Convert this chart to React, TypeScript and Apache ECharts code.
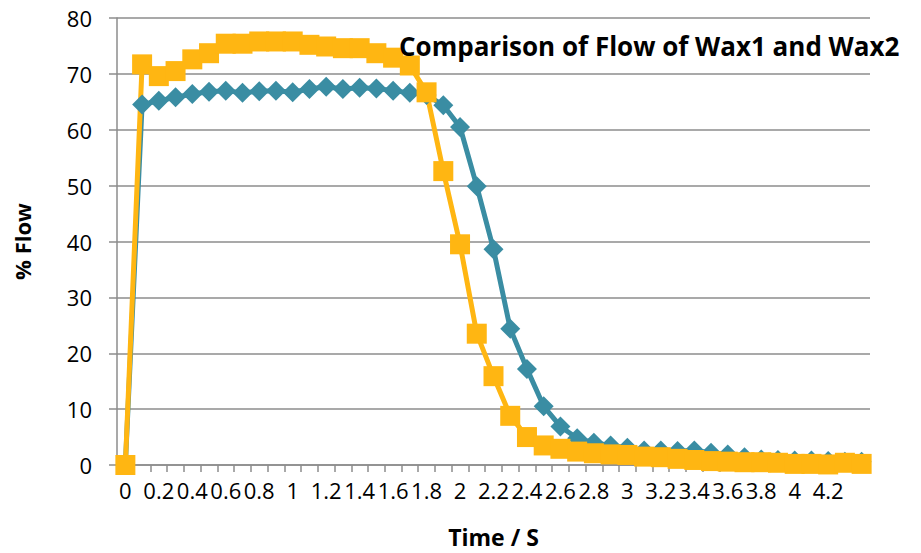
import React, { useEffect, useRef } from "react";
import * as echarts from "echarts";

// Time in seconds (category axis)
const times = [
  "0", "0.1", "0.2", "0.3", "0.4", "0.5", "0.6", "0.7", "0.8", "0.9",
  "1", "1.1", "1.2", "1.3", "1.4", "1.5", "1.6", "1.7", "1.8", "1.9",
  "2", "2.1", "2.2", "2.3", "2.4", "2.5", "2.6", "2.7", "2.8", "2.9",
  "3", "3.1", "3.2", "3.3", "3.4", "3.5", "3.6", "3.7", "3.8", "3.9",
  "4", "4.1", "4.2", "4.3", "4.4",
];

// % flow of each wax over time
const wax1 = [
  0, 64.5, 65.2, 65.8, 66.4, 66.8, 67.0, 66.6, 66.9, 67.0,
  66.7, 67.3, 67.7, 67.3, 67.5, 67.4, 67.0, 66.6, 66.2, 64.4,
  60.5, 49.9, 38.6, 24.4, 17.2, 10.5, 6.9, 4.8, 4.0, 3.5,
  3.1, 2.6, 2.6, 2.5, 2.6, 2.2, 1.9, 1.4, 1.0, 0.9,
  0.8, 0.8, 0.7, 0.6, 0.6,
];

const wax2 = [
  0, 71.7, 69.6, 70.5, 72.6, 73.7, 75.4, 75.4, 75.8, 75.8,
  75.8, 75.2, 74.9, 74.6, 74.6, 73.7, 72.9, 71.5, 66.7, 52.6,
  39.5, 23.5, 15.9, 8.8, 5.0, 3.5, 2.9, 2.4, 2.1, 1.9,
  1.8, 1.5, 1.4, 1.1, 0.9, 0.7, 0.6, 0.5, 0.5, 0.4,
  0.2, 0.2, 0.1, 0.4, 0.2,
];

const FONT = "'Open Sans', 'Noto Sans', sans-serif";
const GRID_GRAY = "#8c8c8c";

export default function App() {
  const ref = useRef<HTMLDivElement>(null);

  useEffect(() => {
    document.body.style.margin = "0";
    if (!ref.current) return;
    const chart = echarts.init(ref.current, undefined, { renderer: "svg" });
    chart.setOption({
      animation: false,
      backgroundColor: "#ffffff",
      textStyle: { fontFamily: FONT },
      title: {
        text: "Comparison of Flow of Wax1 and Wax2",
        left: 394,
        top: 28,
        textStyle: {
          fontFamily: FONT,
          fontSize: 26,
          fontWeight: "bold",
          color: "#000000",
        },
      },
      grid: { left: 117, right: 51, top: 18, bottom: 83 },
      xAxis: {
        type: "category",
        data: times,
        boundaryGap: true,
        name: "Time / S",
        nameLocation: "middle",
        nameGap: 60,
        nameTextStyle: {
          fontFamily: FONT,
          fontSize: 23,
          fontWeight: "bold",
          color: "#000000",
        },
        axisLine: { lineStyle: { color: GRID_GRAY, width: 1.5 } },
        axisTick: {
          show: true,
          interval: 0,
          length: 7,
          lineStyle: { color: GRID_GRAY, width: 1.5 },
        },
        axisLabel: {
          interval: (index: number) => index % 2 === 0 && index < 44,
          margin: 14,
          fontFamily: FONT,
          fontSize: 22,
          color: "#000000",
        },
        splitLine: { show: false },
      },
      yAxis: {
        type: "value",
        min: 0,
        max: 80,
        interval: 10,
        name: "% Flow",
        nameLocation: "middle",
        nameGap: 84,
        nameRotate: 90,
        nameTextStyle: {
          fontFamily: FONT,
          fontSize: 22,
          fontWeight: "bold",
          color: "#000000",
        },
        axisLine: { show: true, lineStyle: { color: GRID_GRAY, width: 1.5 } },
        axisTick: {
          show: true,
          length: 8,
          lineStyle: { color: GRID_GRAY, width: 1.5 },
        },
        axisLabel: {
          margin: 25,
          fontFamily: FONT,
          fontSize: 22,
          color: "#000000",
        },
        splitLine: { show: true, lineStyle: { color: GRID_GRAY, width: 1.5 } },
      },
      series: [
        {
          name: "Wax1",
          type: "line",
          data: wax1,
          symbol: "diamond",
          symbolSize: 20,
          showAllSymbol: true,
          lineStyle: { color: "#3a8da3", width: 5 },
          itemStyle: { color: "#3a8da3" },
        },
        {
          name: "Wax2",
          type: "line",
          data: wax2,
          symbol: "rect",
          symbolSize: 20,
          showAllSymbol: true,
          lineStyle: { color: "#ffb612", width: 5 },
          itemStyle: { color: "#ffb612" },
        },
      ],
    });
    return () => chart.dispose();
  }, []);

  return <div ref={ref} style={{ width: 921, height: 553 }} />;
}
